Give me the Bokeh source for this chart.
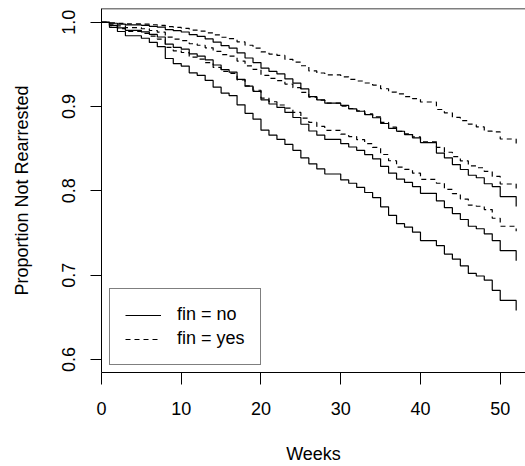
from bokeh.plotting import figure
from bokeh.models import (Range1d, FixedTicker, NumeralTickFormatter, LinearAxis,
                          Legend, LegendItem, ColumnDataSource, Span)
from bokeh.embed import file_html
from bokeh.resources import INLINE

weeks = list(range(0, 53))

fin_no_est = [1.000, .9964, .9934, .9904, .9904, .9886, .9855, .9825, .974, .9703,
              .968, .9624, .9598, .9553, .9493, .9437, .9408, .9323, .9242, .918,
              .908, .903, .899, .893, .887, .879, .871, .866, .861, .861,
              .856, .852, .848, .843, .838, .829, .821, .814, .810, .805,
              .797, .797, .788, .780, .773, .766, .758, .755, .749, .741,
              .729, .729, .717]
fin_no_lower = [1.000, .994, .989, .984, .984, .981, .976, .971, .957, .951,
                .948, .940, .937, .931, .923, .916, .913, .902, .892, .885,
                .872, .866, .861, .855, .848, .839, .832, .826, .820, .820,
                .813, .809, .804, .798, .792, .781, .771, .761, .757, .751,
                .741, .741, .735, .725, .719, .711, .702, .699, .694, .682,
                .670, .670, .658]
fin_no_upper = [1.000, .9988, .9978, .9968, .9968, .9963, .9951, .9941, .9913, .990,
                .9884, .9853, .9832, .9802, .9764, .9722, .9694, .9636, .9576, .9522,
                .9455, .9416, .9387, .9327, .9278, .9209, .9118, .9079, .904, .904,
                .9013, .8973, .8944, .8905, .8867, .8799, .8742, .8707, .8667, .8629,
                .8572, .8572, .8448, .8392, .8311, .8253, .8185, .8155, .8084, .8051,
                .7932, .7932, .7813]
fin_yes_est = [1.000, .9976, .9956, .9935, .9935, .9923, .9902, .9882, .9824, .9799,
               .9783, .9745, .9727, .9697, .9655, .9617, .9597, .9539, .9483, .944,
               .937, .9335, .9308, .9266, .9224, .9167, .9111, .9076, .9041, .9041,
               .9005, .8977, .8948, .8913, .8877, .8813, .8755, .8705, .8676, .864,
               .8582, .8582, .8516, .8458, .8407, .8355, .8297, .8274, .823, .8171,
               .8081, .8081, .7991]
fin_yes_lower = [1.000, .9959, .9924, .989, .989, .9869, .9835, .980, .9703, .966,
                 .9641, .9585, .9562, .9522, .9464, .9416, .9394, .9316, .9244, .9193,
                 .910, .9057, .9018, .898, .893, .8862, .8811, .8764, .8718, .8718,
                 .8672, .8644, .8607, .8561, .8515, .8431, .8357, .8281, .8255, .8209,
                 .8135, .8135, .809, .8017, .7966, .7902, .783, .7817, .7778, .7675,
                 .758, .758, .752]
fin_yes_upper = [1.000, .9993, .9987, .9981, .9981, .9977, .997, .9964, .9947, .9939,
                 .9928, .9907, .9895, .9874, .985, .9822, .9805, .9767, .9727, .9693,
                 .9648, .9622, .9606, .956, .9527, .9484, .9422, .9398, .9375, .9375,
                 .9351, .9322, .9303, .9279, .9255, .9211, .9172, .9151, .9118, .9093,
                 .9054, .9054, .8965, .8924, .8871, .8834, .8791, .8758, .8708, .8699,
                 .8615, .8615, .8553]

x_ticks = [0, 10, 20, 30, 40, 50]
y_ticks = [0.6, 0.7, 0.8, 0.9, 1.0]
legend_labels = ["fin = no", "fin = yes"]
x_title = "Weeks"
y_title = "Proportion Not Rearrested"

FONT = "Liberation Sans"
FS = "18px"
Y0, Y1 = 0.5845, 1.0163

p = figure(width=525, height=466, output_backend="svg", toolbar_location=None,
           x_range=Range1d(0, 53.17), y_range=Range1d(Y0, Y1),
           min_border_left=101, min_border_right=0, min_border_top=8,
           min_border_bottom=94, x_axis_location=None, y_axis_location=None)
p.outline_line_color = None
p.xgrid.visible = False
p.ygrid.visible = False
p.background_fill_color = "white"
p.border_fill_color = "white"

xa = LinearAxis(ticker=FixedTicker(ticks=x_ticks), formatter=NumeralTickFormatter(format="0"))
ya = LinearAxis(ticker=FixedTicker(ticks=y_ticks), formatter=NumeralTickFormatter(format="0.0"))
for ax in (xa, ya):
    ax.axis_line_color = "black"
    ax.major_tick_line_color = "black"
    ax.minor_tick_line_color = None
    ax.major_tick_in = 0
    ax.major_label_text_font = FONT
    ax.major_label_text_font_size = FS
    ax.major_label_text_color = "black"
    ax.axis_label_text_font = FONT
    ax.axis_label_text_font_size = FS
    ax.axis_label_text_font_style = "normal"
    ax.axis_label_text_color = "black"
xa.major_tick_out = 12
xa.major_label_standoff = 17
xa.axis_label = x_title
xa.axis_label_standoff = 26
ya.major_tick_out = 11
ya.major_label_standoff = 15
ya.major_label_orientation = "vertical"
ya.axis_label = y_title
ya.axis_label_standoff = 28
p.add_layout(xa, "below")
p.add_layout(ya, "left")

# top border of the plot box
p.add_layout(Span(location=Y1, dimension="width", line_color="black", line_width=1.5))

src = ColumnDataSource(dict(w=weeks, no_est=fin_no_est, no_lo=fin_no_lower, no_hi=fin_no_upper,
                            yes_est=fin_yes_est, yes_lo=fin_yes_lower, yes_hi=fin_yes_upper))

r_no = None
for col in ("no_est", "no_lo", "no_hi"):
    r = p.step("w", col, source=src, mode="after", line_color="black", line_width=1.2)
    if col == "no_est":
        r_no = r
r_yes = None
for col in ("yes_est", "yes_lo", "yes_hi"):
    r = p.step("w", col, source=src, mode="after", line_color="black", line_width=1.2,
               line_dash="5 4")
    if col == "yes_est":
        r_yes = r

legend = Legend(items=[LegendItem(label=legend_labels[0], renderers=[r_no]),
                       LegendItem(label=legend_labels[1], renderers=[r_yes])],
                location=(8, 7))
legend.border_line_color = "black"
legend.border_line_width = 1
legend.background_fill_alpha = 1
legend.label_text_font = FONT
legend.label_text_font_size = FS
legend.label_text_color = "black"
legend.glyph_width = 36
legend.glyph_height = 20
legend.label_height = 20
legend.spacing = 3
legend.padding = 15
legend.margin = 0
legend.label_standoff = 16
p.add_layout(legend, "center")

open("out.html", "w").write(file_html(p, INLINE))
